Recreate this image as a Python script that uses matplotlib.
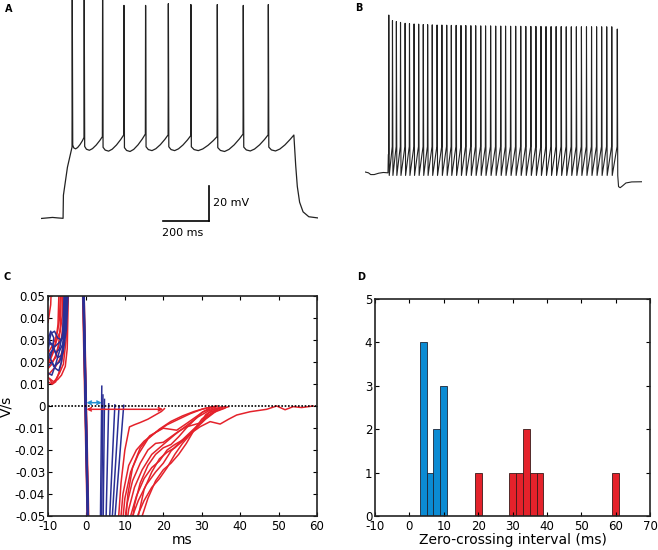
import matplotlib
matplotlib.use("Agg")
import matplotlib.pyplot as plt
from matplotlib.ticker import FuncFormatter
import numpy as np

plt.rcParams['font.family'] = ['DejaVu Sans']
plt.rcParams['axes.unicode_minus'] = False

W, H = 658, 550

# ---------------- data ----------------
# A: regular firing (ms, mV)
a_spike_t = [136, 188, 268, 361, 455, 554, 652, 767, 880, 989]
a_peak = [56, 56, 55, 51.5, 51.5, 52.5, 52, 52, 51.5, 52]
a_pre = [-29.5, -24, -23.5, -22.5, -22, -22.5, -23, -23.5, -22, -22.5]
a_trough = [-30.5, -31.3, -31.8, -32, -31.5, -31.5, -31.5, -32, -31.7, -31.7]
a_start_t = [0, 25, 50, 75, 96, 97.5, 115]
a_start_v = [-70.3, -70, -69.7, -70, -70.2, -57, -41]
a_end_t = [1100, 1102, 1108, 1115, 1125, 1140, 1165, 1205]
a_end_v = [-22.6, -27, -40, -52, -61, -66.5, -69.3, -70]

# B: fast firing (ms, mV)
b_spike_t = [103, 119, 136, 154, 174, 193, 213, 233, 253, 272, 292, 313, 334,
             355, 375, 396, 417, 438, 460, 481, 503, 524, 546, 568, 590, 611,
             633, 655, 677, 699, 721, 743, 765, 787, 809, 831, 853, 875, 897,
             919, 941, 963, 985, 1007, 1029, 1051, 1073, 1097]
b_peak = [24.7, 21.5, 21, 20.5, 20, 19.8, 19.6, 19.5, 19.3, 19.2, 19.1, 19,
          19, 18.9, 18.8, 18.8, 18.7, 18.7, 18.6, 18.6, 18.5, 18.5, 18.5, 18.4,
          18.4, 18.4, 18.3, 18.3, 18.3, 18.2, 18.2, 18.2, 18.2, 18.1, 18.1, 18.1,
          18.1, 18, 18, 18, 18, 18, 18, 18, 18, 18, 18, 16.7]
b_pre = -50.5
b_trough = -67
b_start_t = [0, 15, 25, 40, 60, 80, 100, 101.5]
b_start_v = [-65, -65.5, -66.5, -66.5, -65.7, -65.3, -65.5, -55]
b_end_t = [1103, 1110, 1120, 1135, 1160, 1205]
b_end_v = [-73.4, -74, -73, -71.3, -70.7, -70.6]

# C: phase-plot pieces (ms, V/s)
blue_pre = [
    ([-10, -9.2, -8.3, -7.5, -6.5, -5.7, -5.0, -4.6], [0.027, 0.033, 0.034, 0.031, 0.030, 0.033, 0.042, 0.06]),
    ([-10, -9.3, -8.5, -8.8, -9.5, -8.5, -7, -6, -5.2, -4.7], [0.030, 0.034, 0.031, 0.026, 0.022, 0.018, 0.020, 0.025, 0.035, 0.06]),
    ([-10, -9, -8, -7, -6.2, -5.5, -5.0], [0.015, 0.014, 0.019, 0.025, 0.028, 0.036, 0.06]),
    ([-10, -9.5, -8.5, -7.5, -6.5, -5.8, -5.2], [0.021, 0.024, 0.026, 0.022, 0.023, 0.030, 0.06]),
    ([-10, -9, -8, -7.2, -6.5, -6.0, -5.5], [0.018, 0.020, 0.017, 0.016, 0.020, 0.028, 0.06]),
    ([-10, -9.3, -8.2, -7, -6.2, -5.5, -4.9], [0.032, 0.028, 0.027, 0.029, 0.031, 0.038, 0.06]),
    ([-10, -9.6, -8.8, -8.0, -7.0, -6.2, -5.6], [0.025, 0.029, 0.028, 0.024, 0.026, 0.033, 0.06]),
]
red_pre = [
    ([-10, -9.3, -9.0], [0.038, 0.046, 0.06]),
    ([-10, -9, -8, -7, -6, -5.3, -4.8], [0.011, 0.010, 0.012, 0.015, 0.019, 0.030, 0.06]),
    ([-10, -9, -8, -7, -6.3, -5.6, -5.2], [0.014, 0.016, 0.018, 0.021, 0.025, 0.034, 0.06]),
    ([-10, -9, -8, -7.2, -6.5, -6, -5.6], [0.017, 0.019, 0.023, 0.028, 0.031, 0.038, 0.06]),
    ([-10, -9.2, -8.3, -7.5, -6.8, -6.3, -6.0], [0.020, 0.023, 0.027, 0.031, 0.034, 0.041, 0.06]),
    ([-10, -9, -8.2, -7.5, -7, -6.6], [0.024, 0.027, 0.030, 0.034, 0.040, 0.06]),
    ([-10, -9.4, -8.7, -8, -7.4, -7.0], [0.019, 0.021, 0.024, 0.029, 0.037, 0.06]),
    ([-10, -8.5, -7.5, -6.5, -5.5, -5.0, -4.6], [0.013, 0.011, 0.012, 0.014, 0.018, 0.026, 0.06]),
    ([-9.5, -8.8, -8.0, -7.0, -6.0, -5.4], [0.012, 0.010, 0.011, 0.016, 0.024, 0.06]),
    ([-10, -9.0, -8.0, -7.3, -6.8, -6.4], [0.022, 0.020, 0.022, 0.027, 0.036, 0.06]),
]
blue_down_x0 = [-1.0, -0.9, -0.8, -0.85, -0.7, -0.95, -0.75]
blue_down_x1 = [0.4, 0.5, 0.6, 0.45, 0.55, 0.35, 0.5]
red_down_x0 = [-1.1, -0.9, -0.7, -1.0, -0.8]
red_down_x1 = [0.3, 0.5, 0.7, 0.4, 0.6]
blue_rec_x0 = [3.6, 3.9, 4.3, 5.0, 5.8, 6.4, 7.0]
blue_rec_x1 = [4.0, 4.3, 4.7, 5.8, 7.4, 8.5, 9.7]
blue_rec_y1 = [0.009, 0.005, 0.003, 0.001, 0.0005, 0.0, 0.0003]
red_rec = [
    ([8.0, 9.0, 10.0, 11.2, 12.5, 14, 16, 18, 19.5, 20.3],
     [-0.06, -0.035, -0.02, -0.0095, -0.0085, -0.0075, -0.006, -0.004, -0.0025, -0.0012]),
    ([8.5, 9.5, 11, 13, 15, 18, 21, 24, 27, 30, 33],
     [-0.06, -0.04, -0.027, -0.02, -0.016, -0.012, -0.0085, -0.006, -0.0035, -0.0015, -0.0003]),
    ([9.0, 10, 11.5, 13.5, 16, 19, 22, 25, 28, 31, 34],
     [-0.06, -0.042, -0.03, -0.022, -0.015, -0.0105, -0.007, -0.0045, -0.0025, -0.001, 0]),
    ([9.5, 10.5, 12, 14, 16, 18, 20, 22, 24, 26, 28, 30, 31, 33, 35],
     [-0.06, -0.045, -0.034, -0.026, -0.02, -0.017, -0.0165, -0.014, -0.0115, -0.0095, -0.0085, -0.0075, -0.004, -0.0015, -0.0005]),
    ([9.8, 10.8, 12, 14, 16.5, 20, 23.5, 26.1, 30.4, 33.9],
     [-0.06, -0.04, -0.028, -0.019, -0.0135, -0.0101, -0.011, -0.0079, -0.0026, -0.0003]),
    ([10, 11, 12.5, 14.5, 17, 20, 23, 26, 29, 32, 36],
     [-0.06, -0.047, -0.037, -0.029, -0.022, -0.0175, -0.013, -0.009, -0.005, -0.002, -0.0003]),
    ([10.5, 11.5, 13, 15, 17, 19, 21, 23, 25.5, 28, 31, 34, 37],
     [-0.06, -0.05, -0.041, -0.033, -0.028, -0.025, -0.02, -0.0175, -0.015, -0.011, -0.006, -0.002, -0.0003]),
    ([11, 12, 13.5, 15.5, 18, 20, 22, 24, 27, 30, 33, 36],
     [-0.06, -0.05, -0.043, -0.036, -0.030, -0.026, -0.0205, -0.017, -0.012, -0.007, -0.003, -0.001]),
    ([11.5, 12.5, 14, 16, 18, 20, 22, 24, 26, 28, 30, 32],
     [-0.06, -0.045, -0.035, -0.027, -0.022, -0.019, -0.0175, -0.014, -0.01, -0.0065, -0.003, -0.001]),
    ([12, 13.5, 15, 17, 19, 21, 23, 25, 28, 31, 34],
     [-0.06, -0.049, -0.043, -0.037, -0.033, -0.028, -0.022, -0.017, -0.011, -0.005, -0.0015]),
    ([12.5, 13.5, 15, 17, 19, 21, 23, 25, 27.5, 29.6, 32.2, 34.8, 37, 39.1, 42.6, 46.9, 49.5, 51.7, 53.8, 56, 59],
     [-0.06, -0.05, -0.038, -0.03, -0.024, -0.021, -0.019, -0.016, -0.012, -0.0094, -0.0071, -0.0082, -0.006, -0.0041, -0.0026, -0.0015, 0.0, -0.0017, -0.0003, -0.0007, 0]),
    ([13, 14.5, 16, 18, 20, 22, 24, 26, 28, 30, 32, 35],
     [-0.06, -0.05, -0.042, -0.034, -0.029, -0.026, -0.022, -0.017, -0.011, -0.006, -0.003, -0.0008]),
]
blue_arrow = (0, 4, 0.0015)
red_arrow = (0, 20, -0.0015)

# D: histogram of zero-crossing intervals (2 ms bins)
fast_centers = [4, 6, 8, 10]
fast_counts = [4, 1, 2, 3]
slow_centers = [20, 30, 32, 34, 36, 38, 60]
slow_counts = [1, 1, 1, 2, 1, 1, 1]

RED = '#e4222b'
NAVY = '#2a2f95'
LBLUE = '#0b8bd3'

# where the AHP sits inside each interspike gap (fraction of gap, fraction of rise)
ahp_frac_t = [0.12, 0.28, 0.45, 0.65, 0.85]
ahp_frac_v = [0.25, 0.0, 0.12, 0.38, 0.72]


def build_a():
    t = list(a_start_t)
    v = list(a_start_v)
    for i, ts in enumerate(a_spike_t):
        nxt = a_spike_t[i + 1] if i + 1 < len(a_spike_t) else a_end_t[0]
        nxt_pre = a_pre[i + 1] if i + 1 < len(a_spike_t) else a_end_v[0]
        gap = nxt - ts
        tr = a_trough[i]
        t += [ts - 1, ts, ts + 2.0]
        v += [a_pre[i], a_peak[i], tr + 2.2]
        for ft, fv in zip(ahp_frac_t, ahp_frac_v):
            t.append(ts + ft * gap)
            v.append(tr + fv * (nxt_pre - tr) if ft > 0.2 else tr + 0.6)
    t += a_end_t
    v += a_end_v
    return t, v


def build_b():
    t = list(b_start_t)
    v = list(b_start_v)
    for i, ts in enumerate(b_spike_t):
        t += [ts - 0.5, ts + 0.5, ts + 2.5]
        v += [b_pre if i > 0 else -55, b_peak[i], b_trough]
    t += b_end_t
    v += b_end_v
    return t, v


fig = plt.figure(figsize=(W / 100, H / 100), dpi=100)


def px_axes(left, top, right, bottom):
    return fig.add_axes([left / W, 1 - bottom / H, (right - left) / W, (bottom - top) / H])


# ---- A ----
axA = px_axes(41, 0, 318, 240)
ta, va = build_a()
axA.plot(ta, va, color='#222222', lw=0.9)
axA.set_xlim(0, 1205)
axA.set_ylim(-82.6, 54.6)
axA.axis('off')
axA.plot([731, 731], [-51.7, -71.7], color='black', lw=1.2, clip_on=False)
axA.plot([531, 731], [-71.7, -71.7], color='black', lw=1.2, clip_on=False)
axA.text(748, -61.5, '20 mV', fontsize=8, va='center', ha='left')
axA.text(528, -78.6, '200 ms', fontsize=8, va='center', ha='left')

# ---- B ----
axB = px_axes(365, 0, 642, 240)
tb, vb = build_b()
axB.plot(tb, vb, color='#222222', lw=0.8)
axB.set_xlim(0, 1205)
axB.set_ylim(-103.9, 33.3)
axB.axis('off')

fig.text(5 / W, 1 - 9 / H, 'A', fontsize=7, fontweight='bold', va='center')
fig.text(355 / W, 1 - 8 / H, 'B', fontsize=7, fontweight='bold', va='center')
fig.text(3 / W, 1 - 277 / H, 'C', fontsize=7, fontweight='bold', va='center')
fig.text(357 / W, 1 - 277 / H, 'D', fontsize=7, fontweight='bold', va='center')


def style(ax):
    for s in ax.spines.values():
        s.set_linewidth(1.2)
        s.set_color('#222222')
    ax.tick_params(direction='in', top=True, right=True, length=3, width=0.8,
                   labelsize=8.5, pad=2)
    ax.tick_params(axis='x', pad=3)


# ---- C ----
axC = px_axes(48, 296, 317, 516)
for x, y in red_pre:
    axC.plot(x, y, color=RED, lw=1.1)
for x, y in blue_pre:
    axC.plot(x, y, color=NAVY, lw=1.1)
for x0, x1 in zip(red_down_x0, red_down_x1):
    axC.plot([x0, x1], [0.06, -0.06], color=RED, lw=1.1)
for x0, x1 in zip(blue_down_x0, blue_down_x1):
    axC.plot([x0, x1], [0.06, -0.06], color=NAVY, lw=1.1)
for x0, x1, y1 in zip(blue_rec_x0, blue_rec_x1, blue_rec_y1):
    axC.plot([x0, x1], [-0.06, y1], color=NAVY, lw=1.1)
for x, y in red_rec:
    axC.plot(x, y, color=RED, lw=1.1)
axC.axhline(0, color='black', ls=(0, (1, 1)), lw=1.2)
axC.annotate('', xy=(blue_arrow[0], blue_arrow[2]), xytext=(blue_arrow[1], blue_arrow[2]),
             arrowprops=dict(arrowstyle='<->', color='#1f8fd0', lw=1.1,
                             mutation_scale=6, shrinkA=0, shrinkB=0))
axC.annotate('', xy=(red_arrow[0], red_arrow[2]), xytext=(red_arrow[1], red_arrow[2]),
             arrowprops=dict(arrowstyle='<->', color=RED, lw=1.1,
                             mutation_scale=6, shrinkA=0, shrinkB=0))
axC.set_xlim(-10, 60)
axC.set_ylim(-0.05, 0.05)
axC.set_xticks(range(-10, 61, 10))
axC.set_yticks(np.round(np.arange(-0.05, 0.051, 0.01), 2))
axC.yaxis.set_major_formatter(FuncFormatter(lambda v, p: '%g' % round(v, 2)))
axC.set_xlabel('ms', fontsize=10, labelpad=0)
axC.set_ylabel('V/s', fontsize=10, labelpad=1)
style(axC)

# ---- D ----
axD = px_axes(375, 299, 650, 516)
axD.bar(fast_centers, fast_counts, width=2, color=LBLUE, edgecolor='#1b2638', lw=0.6)
axD.bar(slow_centers, slow_counts, width=2, color=RED, edgecolor='#3a1a1a', lw=0.6)
axD.set_xlim(-10, 70)
axD.set_ylim(0, 5)
axD.set_xticks(range(-10, 71, 10))
axD.set_yticks(range(0, 6))
axD.set_xlabel('Zero-crossing interval (ms)', fontsize=10, labelpad=0)
style(axD)

fig.savefig('out.png', dpi=100)
